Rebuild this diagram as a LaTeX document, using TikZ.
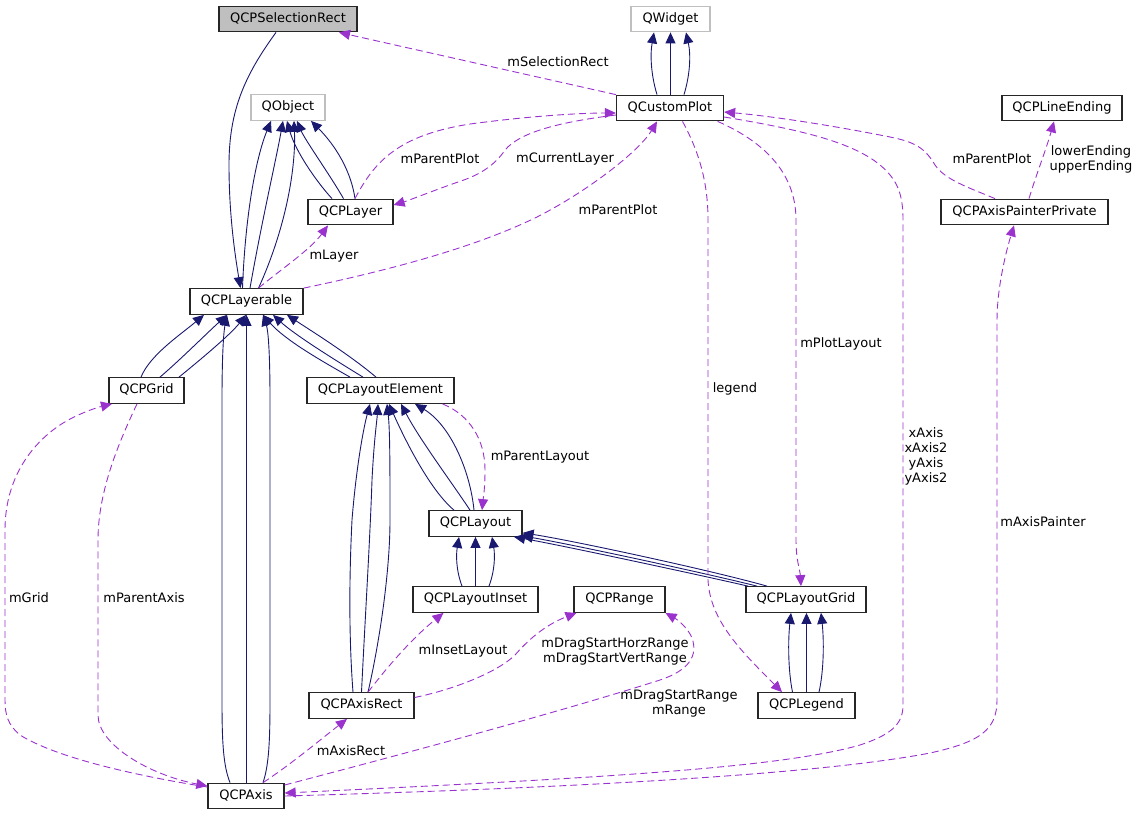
\documentclass[tikz,border=0pt]{standalone}
\usepackage{fontspec}
\setmainfont{DejaVu Sans}
\usetikzlibrary{arrows.meta}
\definecolor{navyc}{HTML}{191970}
\definecolor{purp}{HTML}{9A32CD}
\definecolor{lgray}{HTML}{BFBFBF}
\begin{document}
\begin{tikzpicture}[x=1pt,y=-1pt,
  cls/.style={draw=black!85, line width=1.3pt, fill=white, minimum height=25.5pt, inner sep=0pt,
    text height=9.5pt, text depth=3pt, font=\fontsize{13}{15}\selectfont},
  ext/.style={cls, draw=lgray},
  lbl/.style={inner sep=0pt, align=center, font=\fontsize{13}{15}\selectfont},
  inh/.style={draw=navyc, line width=0.9pt, -{Triangle[length=11pt,width=10pt]}},
  use/.style={draw=purp, line width=0.9pt, dash pattern=on 7pt off 4pt, -{Triangle[length=11pt,width=10pt]}}]
\useasboundingbox (0,0) rectangle (1139,815);
% classes
\node[cls, fill=lgray, minimum width=138pt] (sel) at (288,19) {QCPSelectionRect};
\node[ext, minimum width=79pt] (qwidget) at (670.5,19) {QWidget};
\node[ext, minimum width=74pt] (qobject) at (288,107.5) {QObject};
\node[cls, minimum width=107pt] (qcp) at (670,108) {QCustomPlot};
\node[cls, minimum width=120pt] (lineend) at (1062,108) {QCPLineEnding};
\node[cls, minimum width=85pt] (layer) at (350.5,212) {QCPLayer};
\node[cls, minimum width=167pt] (app) at (1024.5,212) {QCPAxisPainterPrivate};
\node[cls, minimum width=113pt] (layerable) at (246.5,301.5) {QCPLayerable};
\node[cls, minimum width=75pt] (grid) at (146.5,390.5) {QCPGrid};
\node[cls, minimum width=147pt] (le) at (380.5,390.5) {QCPLayoutElement};
\node[cls, minimum width=93pt] (layout) at (475.5,523.5) {QCPLayout};
\node[cls, minimum width=125pt] (inset) at (475.5,599.5) {QCPLayoutInset};
\node[cls, minimum width=91pt] (range) at (619.5,599.5) {QCPRange};
\node[cls, minimum width=120pt] (lgrid) at (806,599.5) {QCPLayoutGrid};
\node[cls, minimum width=105pt] (axisrect) at (361.5,705.5) {QCPAxisRect};
\node[cls, minimum width=97pt] (legend) at (806.5,705.5) {QCPLegend};
\node[cls, minimum width=76pt] (axis) at (246,796) {QCPAxis};

% inheritance
\draw[inh] ([xshift=-12pt]sel.south) .. controls (245,75) and (229,110) .. (229,165) .. controls (229,215) and (235,255) .. ([xshift=-6pt]layerable.north);
\draw[inh] ([xshift=-4pt]layerable.north) .. controls (245,220) and (255,160) .. ([xshift=-17pt]qobject.south);
\draw[inh] ([xshift=3.5pt]layerable.north) .. controls (262,220) and (276,160) .. ([xshift=-5pt]qobject.south);
\draw[inh] ([xshift=12pt]layerable.north) .. controls (285,230) and (296,170) .. ([xshift=6pt]qobject.south);
\draw[inh] ([xshift=-18.5pt]layer.north) .. controls (315,180) and (295,150) .. ([xshift=-1pt]qobject.south);
\draw[inh] ([xshift=-7pt]layer.north) .. controls (330,175) and (305,140) .. ([xshift=9pt]qobject.south);
\draw[inh] ([xshift=4.5pt]layer.north) .. controls (350,165) and (330,140) .. ([xshift=23pt]qobject.south);
\draw[inh] ([xshift=-13pt]qcp.north) .. controls (651,75) and (650,55) .. ([xshift=-16.5pt]qwidget.south);
\draw[inh] ([xshift=0.5pt]qcp.north) -- (qwidget.south);
\draw[inh] ([xshift=14pt]qcp.north) .. controls (690,75) and (691,55) .. ([xshift=15.5pt]qwidget.south);
\draw[inh] ([xshift=-5.5pt]grid.north) .. controls (150,355) and (180,335) .. ([xshift=-42.5pt]layerable.south);
\draw[inh] ([xshift=13.5pt]grid.north) .. controls (180,360) and (205,335) .. ([xshift=-19.5pt]layerable.south);
\draw[inh] ([xshift=32.5pt]grid.north) .. controls (200,360) and (230,335) .. ([xshift=-0.5pt]layerable.south);
\draw[inh] ([xshift=-16pt]axis.north) .. controls (223,765) and (222,740) .. (222,700) -- (222,400) .. controls (222,350) and (224,330) .. ([xshift=-19.5pt]layerable.south);
\draw[inh] ([xshift=0.5pt]axis.north) -- (layerable.south);
\draw[inh] ([xshift=17pt]axis.north) .. controls (269,765) and (270,740) .. (270,700) -- (270,400) .. controls (270,350) and (268,330) .. ([xshift=16.5pt]layerable.south);
\draw[inh] ([xshift=-30.5pt]le.north) .. controls (320,360) and (285,340) .. ([xshift=16.5pt]layerable.south);
\draw[inh] ([xshift=-17.5pt]le.north) .. controls (335,360) and (295,335) .. ([xshift=26.5pt]layerable.south);
\draw[inh] ([xshift=-4.5pt]le.north) .. controls (350,355) and (310,330) .. ([xshift=40.5pt]layerable.south);
\draw[inh] ([xshift=-21.5pt]layout.north) .. controls (430,490) and (405,440) .. ([xshift=8.5pt]le.south);
\draw[inh] ([xshift=-5.5pt]layout.north) .. controls (450,480) and (420,440) .. ([xshift=20.5pt]le.south);
\draw[inh] ([xshift=-1.5pt]layout.north) .. controls (470,470) and (450,425) .. ([xshift=34.5pt]le.south);
\draw[inh] ([xshift=-8.5pt]axisrect.north) .. controls (349,640) and (349,580) .. (352,520) .. controls (356,470) and (363,430) .. ([xshift=-10.5pt]le.south);
\draw[inh] (axisrect.north) .. controls (365,620) and (370,540) .. (372,480) .. controls (374,440) and (377,420) .. ([xshift=-2.5pt]le.south);
\draw[inh] ([xshift=6.5pt]axisrect.north) .. controls (380,640) and (390,570) .. (390,520) .. controls (390,470) and (390,430) .. ([xshift=6.5pt]le.south);
\draw[inh] ([xshift=-13.5pt]inset.north) .. controls (456,570) and (456,555) .. ([xshift=-16.5pt]layout.south);
\draw[inh] (inset.north) -- (layout.south);
\draw[inh] ([xshift=13.5pt]inset.north) .. controls (495,570) and (495,555) .. ([xshift=16.5pt]layout.south);
\draw[inh] ([xshift=-58pt]lgrid.north) .. controls (700,575) and (560,545) .. ([xshift=38.5pt]layout.south);
\draw[inh] ([xshift=-49pt]lgrid.north) .. controls (705,573) and (565,543) .. ([xshift=-1pt,yshift=1pt]layout.south east);
\draw[inh] ([xshift=-39pt]lgrid.north) .. controls (710,570) and (570,540) .. ([yshift=4pt]layout.south east);
\draw[inh] ([xshift=-14pt]legend.north) .. controls (788,670) and (788,640) .. ([xshift=-15pt]lgrid.south);
\draw[inh] (legend.north) -- ([xshift=0.5pt]lgrid.south);
\draw[inh] ([xshift=12.5pt]legend.north) .. controls (824,670) and (824,640) .. ([xshift=15pt]lgrid.south);

% usage
\draw[use] (qcp.north west) -- ([xshift=51pt]sel.south);
\draw[use] ([xshift=4.5pt]layer.north) .. controls (375,160) and (400,135) .. (470,124) .. controls (530,116) and (580,113) .. ([yshift=-5pt]qcp.west);
\draw[use] ([yshift=-7pt]qcp.west) .. controls (560,122) and (520,132) .. (505,150) .. controls (495,165) and (480,175) .. (458,182) .. controls (435,190) and (410,200) .. ([yshift=7pt]layer.east);
\draw[use] (layerable.north east) .. controls (400,268) and (480,245) .. (537,217) .. controls (590,190) and (640,150) .. ([xshift=-13pt]qcp.south);
\draw[use] ([xshift=12pt]layerable.north) .. controls (280,270) and (310,250) .. ([xshift=-22.5pt]layer.south);
\draw[use] ([xshift=-29.5pt]app.north) .. controls (970,188) and (945,180) .. (935,165) .. controls (925,148) and (915,142) .. (890,137) .. controls (830,125) and (770,116) .. ([yshift=-4pt]qcp.east);
\draw[use] ([xshift=4.5pt]app.north) .. controls (1036,175) and (1046,150) .. ([xshift=-8pt]lineend.south);
\draw[use] (axis.east) .. controls (500,790) and (800,778) .. (930,753) .. controls (980,742) and (997,730) .. (997,700) -- (997,320) .. controls (997,290) and (1005,255) .. ([xshift=-10.5pt]app.south);
\draw[use] ([yshift=-9pt]qcp.east) .. controls (790,128) and (850,140) .. (880,165) .. controls (898,180) and (903,195) .. (903,220) -- (903,705) .. controls (903,725) and (890,735) .. (860,745) .. controls (780,768) and (600,778) .. ([yshift=3pt]axis.east);
\draw[use] ([xshift=12.5pt]qcp.south) .. controls (698,150) and (708,180) .. (708,220) -- (708,580) .. controls (710,620) and (740,650) .. ([xshift=-24.5pt]legend.north);
\draw[use] ([xshift=-6.5pt]qcp.south east) .. controls (760,140) and (796,170) .. (796,220) -- (796,540) .. controls (796,560) and (800,570) .. ([xshift=-5pt]lgrid.north);
\draw[use] ([xshift=62pt]le.south) .. controls (470,415) and (485,440) .. (485,470) .. controls (485,490) and (483,500) .. ([xshift=6.5pt]layout.north);
\draw[use] ([yshift=9pt]axis.west) .. controls (150,778) and (60,760) .. (20,735) .. controls (8,725) and (5,715) .. (5,700) -- (5,530) .. controls (5,480) and (30,445) .. (60,425) .. controls (75,415) and (95,408) .. ([xshift=-34.5pt]grid.south);
\draw[use] ([xshift=-9.5pt]grid.south) .. controls (120,440) and (98,490) .. (98,540) -- (98,715) .. controls (98,745) and (150,775) .. ([yshift=10pt]axis.west);
\draw[use] ([xshift=6.5pt]axisrect.north) .. controls (385,670) and (410,640) .. ([xshift=-32pt]inset.south);
\draw[use] ([yshift=8pt]axisrect.east) .. controls (460,688) and (500,670) .. (515,655) .. controls (528,640) and (545,625) .. ([xshift=-43pt]range.south);
\draw[use] ([yshift=11pt]axis.east) .. controls (380,760) and (550,715) .. (660,680) .. controls (690,670) and (698,655) .. (692,638) .. controls (688,628) and (678,620) .. ([xshift=46pt]range.south);
\draw[use] ([xshift=17pt]axis.north) .. controls (290,765) and (320,740) .. ([xshift=-14.5pt]axisrect.south);

% labels
\node[lbl] (l1) at (558,62) {mSelectionRect};
\node[lbl] (l2) at (440,159) {mParentPlot};
\node[lbl] (l3) at (565,159) {mCurrentLayer};
\node[lbl] (l4) at (618,210) {mParentPlot};
\node[lbl] (l5) at (334,256) {mLayer};
\node[lbl] (l6) at (992,159) {mParentPlot};
\node[lbl] (l7) at (1091,159) {lowerEnding\\upperEnding};
\node[lbl] (l8) at (841,344) {mPlotLayout};
\node[lbl] (l9) at (735,389) {legend};
\node[lbl] (l10) at (926,456.5) {xAxis\\xAxis2\\yAxis\\yAxis2};
\node[lbl] (l11) at (1043,522) {mAxisPainter};
\node[lbl] (l12) at (540,457) {mParentLayout};
\node[lbl] (l13) at (29,598) {mGrid};
\node[lbl] (l14) at (144,598) {mParentAxis};
\node[lbl] (l15) at (463,651) {mInsetLayout};
\node[lbl] (l16) at (615,651.5) {mDragStartHorzRange\\mDragStartVertRange};
\node[lbl] (l17) at (679,704) {mDragStartRange\\mRange};
\node[lbl] (l18) at (351,751) {mAxisRect};
\end{tikzpicture}
\end{document}
